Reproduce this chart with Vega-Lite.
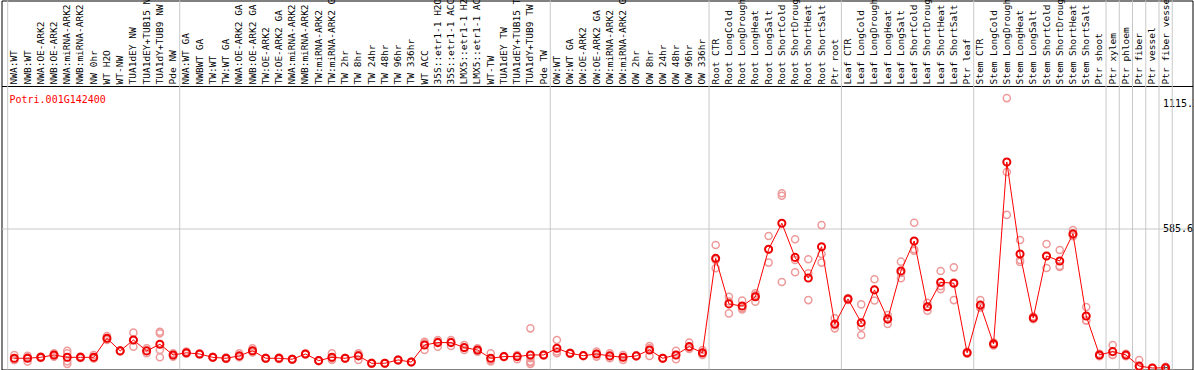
{
  "$schema": "https://vega.github.io/schema/vega-lite/v6.json",
  "autosize": {"type": "none"},
  "padding": {"left": 1.5, "top": 0.5, "right": 1.5, "bottom": 0.5},
  "width": 1191,
  "height": 369,
  "background": "white",
  "config": {"view": {"stroke": "black", "strokeWidth": 1}},
  "title": {
    "text": "Potri.001G142400",
    "orient": "bottom",
    "anchor": "start",
    "frame": "group",
    "offset": -281,
    "dx": 8,
    "font": "DejaVu Sans Mono",
    "fontSize": 10,
    "fontWeight": "normal",
    "color": "#ff0000"
  },
  "datasets": {
    "means": [
      {"i": 1, "name": "NWA:WT", "v": 41}, {"i": 2, "name": "NWB:WT", "v": 41}, {"i": 3, "name": "NWA:OE-ARK2", "v": 45}, {"i": 4, "name": "NWB:OE-ARK2", "v": 55},
      {"i": 5, "name": "NWA:miRNA-ARK2", "v": 45}, {"i": 6, "name": "NWB:miRNA-ARK2", "v": 45}, {"i": 7, "name": "NW 0hr", "v": 45}, {"i": 8, "name": "WT H2O", "v": 125},
      {"i": 9, "name": "WT-NW", "v": 72}, {"i": 10, "name": "TUA1dEY NW", "v": 118}, {"i": 11, "name": "TUA1dEY+TUB15 NW", "v": 72}, {"i": 12, "name": "TUA1dY+TUB9 NW", "v": 100},
      {"i": 13, "name": "Pde NW", "v": 55}, {"i": 14, "name": "NWA:WT GA", "v": 64}, {"i": 15, "name": "NWBWT GA", "v": 59}, {"i": 16, "name": "TW:WT", "v": 45},
      {"i": 17, "name": "TW:WT GA", "v": 41}, {"i": 18, "name": "NWA:OE-ARK2 GA", "v": 51}, {"i": 19, "name": "NWB:OE-ARK2 GA", "v": 73}, {"i": 20, "name": "TW:OE-ARK2", "v": 41},
      {"i": 21, "name": "TW:OE-ARK2 GA", "v": 41}, {"i": 22, "name": "NWA:miRNA-ARK2 GA", "v": 37}, {"i": 23, "name": "NWB:miRNA-ARK2 GA", "v": 59}, {"i": 24, "name": "TW:miRNA-ARK2", "v": 31},
      {"i": 25, "name": "TW:miRNA-ARK2 GA", "v": 45}, {"i": 26, "name": "TW 2hr", "v": 41}, {"i": 27, "name": "TW 8hr", "v": 51}, {"i": 28, "name": "TW 24hr", "v": 20},
      {"i": 29, "name": "TW 48hr", "v": 20}, {"i": 30, "name": "TW 96hr", "v": 34}, {"i": 31, "name": "TW 336hr", "v": 25}, {"i": 32, "name": "WT ACC", "v": 97},
      {"i": 33, "name": "35S::etr1-1 H2O", "v": 107}, {"i": 34, "name": "35S::etr1-1 ACC", "v": 107}, {"i": 35, "name": "LMX5::etr1-1 H2O", "v": 86}, {"i": 36, "name": "LMX5::etr1-1 ACC", "v": 76},
      {"i": 37, "name": "WT-TW", "v": 41}, {"i": 38, "name": "TUA1dEY TW", "v": 48}, {"i": 39, "name": "TUA1dEY+TUB15 TW", "v": 48}, {"i": 40, "name": "TUA1dY+TUB9 TW", "v": 55},
      {"i": 41, "name": "Pde TW", "v": 55}, {"i": 42, "name": "OW:WT", "v": 83}, {"i": 43, "name": "OW:WT GA", "v": 62}, {"i": 44, "name": "OW:OE-ARK2", "v": 52},
      {"i": 45, "name": "OW:OE-ARK2 GA", "v": 59}, {"i": 46, "name": "OW:miRNA-ARK2", "v": 51}, {"i": 47, "name": "OW:miRNA-ARK2 GA", "v": 45}, {"i": 48, "name": "OW 2hr", "v": 51},
      {"i": 49, "name": "OW 8hr", "v": 76}, {"i": 50, "name": "OW 24hr", "v": 41}, {"i": 51, "name": "OW 48hr", "v": 55}, {"i": 52, "name": "OW 96hr", "v": 90},
      {"i": 53, "name": "OW 336hr", "v": 64}, {"i": 54, "name": "Root CTR", "v": 462}, {"i": 55, "name": "Root LongCold", "v": 270}, {"i": 56, "name": "Root LongDrought", "v": 261},
      {"i": 57, "name": "Root LongHeat", "v": 300}, {"i": 58, "name": "Root LongSalt", "v": 500}, {"i": 59, "name": "Root ShortCold", "v": 610}, {"i": 60, "name": "Root ShortDrought", "v": 466},
      {"i": 61, "name": "Root ShortHeat", "v": 379}, {"i": 62, "name": "Root ShortSalt", "v": 511}, {"i": 63, "name": "Ptr root", "v": 185}, {"i": 64, "name": "Leaf CTR", "v": 291},
      {"i": 65, "name": "Leaf LongCold", "v": 191}, {"i": 66, "name": "Leaf LongDrought", "v": 329}, {"i": 67, "name": "Leaf LongHeat", "v": 206}, {"i": 68, "name": "Leaf LongSalt", "v": 409},
      {"i": 69, "name": "Leaf ShortCold", "v": 535}, {"i": 70, "name": "Leaf ShortDrought", "v": 258}, {"i": 71, "name": "Leaf ShortHeat", "v": 361}, {"i": 72, "name": "Leaf ShortSalt", "v": 357},
      {"i": 73, "name": "Ptr leaf", "v": 64}, {"i": 74, "name": "Stem CTR", "v": 265}, {"i": 75, "name": "Stem LongCold", "v": 101}, {"i": 76, "name": "Stem LongDrought", "v": 868},
      {"i": 77, "name": "Stem LongHeat", "v": 480}, {"i": 78, "name": "Stem LongSalt", "v": 211}, {"i": 79, "name": "Stem ShortCold", "v": 472}, {"i": 80, "name": "Stem ShortDrought", "v": 451},
      {"i": 81, "name": "Stem ShortHeat", "v": 565}, {"i": 82, "name": "Stem ShortSalt", "v": 219}, {"i": 83, "name": "Ptr shoot", "v": 55}, {"i": 84, "name": "Ptr xylem", "v": 69},
      {"i": 85, "name": "Ptr phloem", "v": 55}, {"i": 86, "name": "Ptr fiber", "v": 8}, {"i": 87, "name": "Ptr vessel", "v": 0}, {"i": 88, "name": "Ptr fiber vessel", "v": 1}
    ],
    "reps": [
      {"i": 1, "v": 55}, {"i": 1, "v": 34}, {"i": 1, "v": 34},
      {"i": 2, "v": 51}, {"i": 2, "v": 27}, {"i": 2, "v": 45},
      {"i": 3, "v": 45}, {"i": 3, "v": 42}, {"i": 3, "v": 48},
      {"i": 4, "v": 62}, {"i": 4, "v": 48}, {"i": 4, "v": 55},
      {"i": 5, "v": 73}, {"i": 5, "v": 62}, {"i": 5, "v": 17}, {"i": 5, "v": 28},
      {"i": 6, "v": 45}, {"i": 6, "v": 42}, {"i": 6, "v": 48},
      {"i": 7, "v": 55}, {"i": 7, "v": 41}, {"i": 7, "v": 40},
      {"i": 8, "v": 135}, {"i": 8, "v": 118}, {"i": 8, "v": 122},
      {"i": 9, "v": 72}, {"i": 9, "v": 70}, {"i": 9, "v": 74},
      {"i": 10, "v": 149}, {"i": 10, "v": 118}, {"i": 10, "v": 90},
      {"i": 11, "v": 83}, {"i": 11, "v": 62}, {"i": 11, "v": 72},
      {"i": 12, "v": 153}, {"i": 12, "v": 146}, {"i": 12, "v": 76}, {"i": 12, "v": 45},
      {"i": 13, "v": 62}, {"i": 13, "v": 48}, {"i": 13, "v": 55},
      {"i": 14, "v": 69}, {"i": 14, "v": 60}, {"i": 14, "v": 63},
      {"i": 15, "v": 59}, {"i": 15, "v": 57}, {"i": 15, "v": 61},
      {"i": 16, "v": 45}, {"i": 16, "v": 43}, {"i": 16, "v": 47},
      {"i": 17, "v": 41}, {"i": 17, "v": 38}, {"i": 17, "v": 44},
      {"i": 18, "v": 62}, {"i": 18, "v": 45}, {"i": 18, "v": 47},
      {"i": 19, "v": 83}, {"i": 19, "v": 65}, {"i": 19, "v": 71},
      {"i": 20, "v": 41}, {"i": 20, "v": 39}, {"i": 20, "v": 43},
      {"i": 21, "v": 41}, {"i": 21, "v": 38}, {"i": 21, "v": 44},
      {"i": 22, "v": 37}, {"i": 22, "v": 35}, {"i": 22, "v": 39},
      {"i": 23, "v": 59}, {"i": 23, "v": 57}, {"i": 23, "v": 61},
      {"i": 24, "v": 31}, {"i": 24, "v": 29}, {"i": 24, "v": 33},
      {"i": 25, "v": 62}, {"i": 25, "v": 34}, {"i": 25, "v": 40},
      {"i": 26, "v": 41}, {"i": 26, "v": 40}, {"i": 26, "v": 42},
      {"i": 27, "v": 62}, {"i": 27, "v": 34}, {"i": 27, "v": 56},
      {"i": 28, "v": 20}, {"i": 28, "v": 18}, {"i": 28, "v": 22},
      {"i": 29, "v": 20}, {"i": 29, "v": 19}, {"i": 29, "v": 21},
      {"i": 30, "v": 34}, {"i": 30, "v": 32}, {"i": 30, "v": 36},
      {"i": 31, "v": 25}, {"i": 31, "v": 24}, {"i": 31, "v": 26},
      {"i": 32, "v": 104}, {"i": 32, "v": 76}, {"i": 32, "v": 110},
      {"i": 33, "v": 118}, {"i": 33, "v": 90}, {"i": 33, "v": 112},
      {"i": 34, "v": 118}, {"i": 34, "v": 93}, {"i": 34, "v": 110},
      {"i": 35, "v": 97}, {"i": 35, "v": 76}, {"i": 35, "v": 85},
      {"i": 36, "v": 83}, {"i": 36, "v": 69}, {"i": 36, "v": 76},
      {"i": 37, "v": 62}, {"i": 37, "v": 34}, {"i": 37, "v": 28},
      {"i": 38, "v": 48}, {"i": 38, "v": 46}, {"i": 38, "v": 50},
      {"i": 39, "v": 55}, {"i": 39, "v": 37}, {"i": 39, "v": 52},
      {"i": 40, "v": 167}, {"i": 40, "v": 41}, {"i": 40, "v": 27}, {"i": 40, "v": 17}, {"i": 40, "v": 23},
      {"i": 41, "v": 55}, {"i": 41, "v": 53}, {"i": 41, "v": 57},
      {"i": 42, "v": 118}, {"i": 42, "v": 62}, {"i": 42, "v": 70},
      {"i": 43, "v": 62}, {"i": 43, "v": 60}, {"i": 43, "v": 64},
      {"i": 44, "v": 52}, {"i": 44, "v": 50}, {"i": 44, "v": 54},
      {"i": 45, "v": 69}, {"i": 45, "v": 48}, {"i": 45, "v": 60},
      {"i": 46, "v": 62}, {"i": 46, "v": 41}, {"i": 46, "v": 50},
      {"i": 47, "v": 55}, {"i": 47, "v": 34}, {"i": 47, "v": 46},
      {"i": 48, "v": 51}, {"i": 48, "v": 49}, {"i": 48, "v": 53},
      {"i": 49, "v": 93}, {"i": 49, "v": 51}, {"i": 49, "v": 84},
      {"i": 50, "v": 41}, {"i": 50, "v": 40}, {"i": 50, "v": 42},
      {"i": 51, "v": 73}, {"i": 51, "v": 37}, {"i": 51, "v": 55},
      {"i": 52, "v": 107}, {"i": 52, "v": 83}, {"i": 52, "v": 80},
      {"i": 53, "v": 76}, {"i": 53, "v": 55}, {"i": 53, "v": 61},
      {"i": 54, "v": 518}, {"i": 54, "v": 420}, {"i": 54, "v": 455},
      {"i": 55, "v": 300}, {"i": 55, "v": 230}, {"i": 55, "v": 280},
      {"i": 56, "v": 284}, {"i": 56, "v": 247}, {"i": 56, "v": 252},
      {"i": 57, "v": 315}, {"i": 57, "v": 279}, {"i": 57, "v": 306},
      {"i": 58, "v": 556}, {"i": 58, "v": 444}, {"i": 58, "v": 500},
      {"i": 59, "v": 736}, {"i": 59, "v": 726}, {"i": 59, "v": 362},
      {"i": 60, "v": 542}, {"i": 60, "v": 455}, {"i": 60, "v": 403},
      {"i": 61, "v": 458}, {"i": 61, "v": 399}, {"i": 61, "v": 286},
      {"i": 62, "v": 602}, {"i": 62, "v": 480}, {"i": 62, "v": 444},
      {"i": 63, "v": 209}, {"i": 63, "v": 167}, {"i": 63, "v": 180},
      {"i": 64, "v": 291}, {"i": 64, "v": 295}, {"i": 64, "v": 287},
      {"i": 65, "v": 268}, {"i": 65, "v": 174}, {"i": 65, "v": 139},
      {"i": 66, "v": 374}, {"i": 66, "v": 284}, {"i": 66, "v": 330},
      {"i": 67, "v": 223}, {"i": 67, "v": 185}, {"i": 67, "v": 210},
      {"i": 68, "v": 448}, {"i": 68, "v": 378}, {"i": 68, "v": 400},
      {"i": 69, "v": 612}, {"i": 69, "v": 494}, {"i": 69, "v": 500},
      {"i": 70, "v": 275}, {"i": 70, "v": 241}, {"i": 70, "v": 258},
      {"i": 71, "v": 409}, {"i": 71, "v": 332}, {"i": 71, "v": 345},
      {"i": 72, "v": 424}, {"i": 72, "v": 286}, {"i": 72, "v": 360},
      {"i": 73, "v": 64}, {"i": 73, "v": 60}, {"i": 73, "v": 68},
      {"i": 74, "v": 286}, {"i": 74, "v": 255}, {"i": 74, "v": 255},
      {"i": 75, "v": 101}, {"i": 75, "v": 95}, {"i": 75, "v": 107},
      {"i": 76, "v": 1137}, {"i": 76, "v": 826}, {"i": 76, "v": 645},
      {"i": 77, "v": 539}, {"i": 77, "v": 447}, {"i": 77, "v": 455},
      {"i": 78, "v": 211}, {"i": 78, "v": 205}, {"i": 78, "v": 217},
      {"i": 79, "v": 522}, {"i": 79, "v": 421}, {"i": 79, "v": 472},
      {"i": 80, "v": 497}, {"i": 80, "v": 430}, {"i": 80, "v": 426},
      {"i": 81, "v": 581}, {"i": 81, "v": 555}, {"i": 81, "v": 560},
      {"i": 82, "v": 257}, {"i": 82, "v": 200}, {"i": 82, "v": 200},
      {"i": 83, "v": 55}, {"i": 83, "v": 50}, {"i": 83, "v": 60},
      {"i": 84, "v": 97}, {"i": 84, "v": 55}, {"i": 84, "v": 55},
      {"i": 85, "v": 55}, {"i": 85, "v": 50}, {"i": 85, "v": 60},
      {"i": 86, "v": 34}, {"i": 86, "v": 0}, {"i": 86, "v": 0},
      {"i": 87, "v": 0}, {"i": 87, "v": 0}, {"i": 87, "v": 0},
      {"i": 88, "v": 5}, {"i": 88, "v": 0}, {"i": 88, "v": 0}
    ],
    "groupStarts": [{"i": 1}, {"i": 14}, {"i": 42}, {"i": 54}, {"i": 64}, {"i": 74}, {"i": 84}, {"i": 85}, {"i": 86}, {"i": 87}, {"i": 88}],
    "groupEnd": [{"i": 88}]
  },
  "encoding": {
    "x": {
      "field": "i",
      "type": "ordinal",
      "scale": {"paddingInner": 0, "paddingOuter": 1.8076923, "align": 0.234043},
      "axis": {
        "orient": "top",
        "offset": -85.5,
        "title": null,
        "labelExpr": "data('means')[datum.value - 1].name",
        "labelAngle": 270,
        "labelAlign": "left",
        "labelBaseline": "middle",
        "labelFont": "DejaVu Sans Mono",
        "labelFontSize": 9.5,
        "labelColor": "black",
        "labelPadding": 2,
        "labelLimit": 0,
        "labelOverlap": false,
        "labelBound": false,
        "labelFlush": false,
        "ticks": false,
        "tickSize": 0,
        "domain": true,
        "domainColor": "black",
        "domainWidth": 1,
        "grid": false
      }
    },
    "y": {
      "field": "v",
      "type": "quantitative",
      "scale": {"domain": [0, 1188], "range": [367.5, 85.5], "nice": false, "zero": true},
      "axis": {
        "orient": "right",
        "offset": -30,
        "title": null,
        "values": [0, 585.6, 1115.2],
        "format": ".1~f",
        "labelFont": "DejaVu Sans Mono",
        "labelFontSize": 10,
        "labelColor": "black",
        "labelPadding": 0,
        "labelAlign": "left",
        "labelBound": false,
        "labelFlush": false,
        "labelOverlap": false,
        "ticks": false,
        "tickSize": 0,
        "domain": false,
        "grid": true,
        "gridColor": "#c8c8c8",
        "gridWidth": 1,
        "gridOpacity": {"condition": {"test": "datum.value == 585.6", "value": 1}, "value": 0},
        "encode": {
          "labels": {
            "update": {
              "baseline": [
                {"test": "datum.value == 0", "value": "bottom"},
                {"test": "datum.value > 1000", "value": "top"},
                {"value": "middle"}
              ]
            }
          }
        }
      }
    }
  },
  "layer": [
    {
      "data": {"name": "groupStarts"},
      "mark": {"type": "rule", "color": "#c8c8c8", "strokeWidth": 1},
      "encoding": {"x": {"field": "i", "type": "ordinal", "bandPosition": 0}, "y": null}
    },
    {
      "data": {"name": "groupEnd"},
      "mark": {"type": "rule", "color": "#c8c8c8", "strokeWidth": 1},
      "encoding": {"x": {"field": "i", "type": "ordinal", "bandPosition": 1}, "y": null}
    },
    {
      "data": {"name": "reps"},
      "mark": {"type": "point", "shape": "circle", "filled": false, "size": 50, "strokeWidth": 1.5, "color": "#ee9a9a", "opacity": 1}
    },
    {
      "data": {"name": "means"},
      "mark": {"type": "line", "color": "#ff0000", "strokeWidth": 1},
      "encoding": {"order": {"field": "i", "type": "quantitative"}}
    },
    {
      "data": {"name": "means"},
      "mark": {"type": "point", "shape": "circle", "filled": false, "size": 50, "strokeWidth": 2, "color": "#ee0000", "opacity": 1}
    }
  ]
}
